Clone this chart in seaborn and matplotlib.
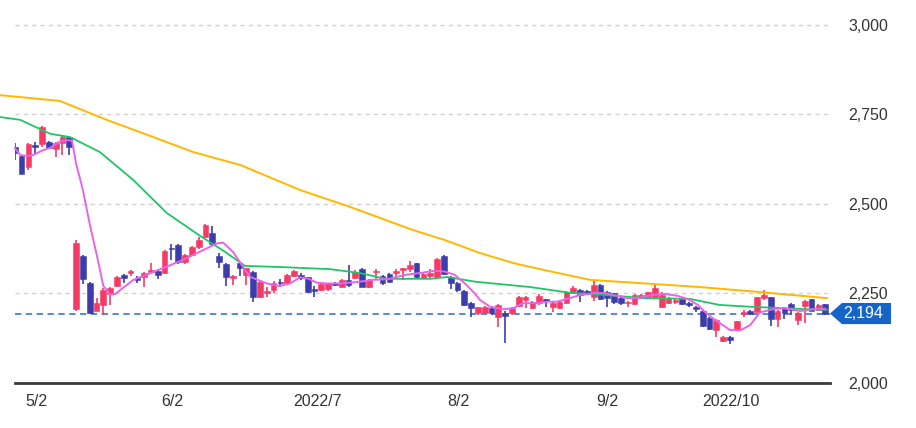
import matplotlib
matplotlib.use("Agg")
import matplotlib.pyplot as plt
import matplotlib.transforms as mtransforms
from matplotlib.patches import Polygon
import numpy as np
import pandas as pd
import seaborn as sns

# ---------------- data ----------------
opens = [2658, 2634, 2603, 2665, 2668, 2673, 2653, 2670, 2686, 2206,
         2355, 2278, 2202, 2218, 2249, 2271, 2302, 2308, 2293, 2297,
         2311, 2313, 2306, 2378, 2385, 2339, 2358, 2381, 2409, 2420,
         2355, 2332, 2292, 2335, 2302, 2311, 2241, 2252, 2260, 2282,
         2278, 2299, 2302, 2295, 2262, 2260, 2262, 2280, 2269, 2288,
         2292, 2318, 2269, 2310, 2299, 2304, 2308, 2316, 2318, 2334,
         2292, 2299, 2297, 2356, 2297, 2280, 2258, 2224, 2195, 2196,
         2210, 2185, 2196, 2196, 2215, 2232, 2209, 2223, 2234, 2213,
         2209, 2223, 2252, 2260, 2258, 2241, 2274, 2255, 2250, 2237,
         2223, 2220, 2237, 2239, 2241, 2211, 2224, 2227, 2235, 2222,
         2211, 2202, 2181, 2148, 2118, 2129, 2148, 2192, 2202, 2199,
         2237, 2239, 2178, 2209, 2221, 2176, 2215, 2234, 2204, 2220]
highs = [2670, 2636, 2670, 2673, 2718, 2676, 2673, 2690, 2690, 2400,
         2358, 2281, 2237, 2265, 2267, 2299, 2304, 2316, 2298, 2309,
         2335, 2316, 2372, 2388, 2388, 2361, 2383, 2407, 2444, 2439,
         2363, 2335, 2302, 2338, 2322, 2313, 2285, 2269, 2284, 2290,
         2304, 2316, 2308, 2297, 2272, 2280, 2280, 2282, 2291, 2330,
         2316, 2320, 2290, 2318, 2301, 2306, 2318, 2322, 2341, 2336,
         2306, 2318, 2348, 2358, 2299, 2282, 2260, 2226, 2213, 2215,
         2216, 2220, 2200, 2213, 2243, 2243, 2229, 2248, 2236, 2226,
         2229, 2257, 2272, 2262, 2260, 2288, 2276, 2257, 2252, 2239,
         2230, 2248, 2248, 2255, 2274, 2255, 2239, 2237, 2237, 2227,
         2216, 2204, 2183, 2178, 2131, 2131, 2174, 2204, 2204, 2241,
         2260, 2241, 2204, 2211, 2223, 2198, 2231, 2236, 2220, 2222]
lows = [2622, 2584, 2595, 2637, 2660, 2655, 2632, 2637, 2637, 2200,
        2277, 2194, 2200, 2190, 2218, 2268, 2280, 2300, 2280, 2269,
        2307, 2290, 2304, 2344, 2332, 2332, 2355, 2375, 2405, 2385,
        2321, 2271, 2274, 2300, 2274, 2227, 2238, 2241, 2252, 2267,
        2275, 2297, 2288, 2252, 2241, 2258, 2258, 2272, 2267, 2269,
        2290, 2267, 2264, 2288, 2274, 2281, 2297, 2288, 2311, 2294,
        2290, 2292, 2294, 2302, 2262, 2255, 2216, 2185, 2190, 2194,
        2190, 2157, 2113, 2190, 2213, 2209, 2206, 2218, 2213, 2197,
        2207, 2220, 2250, 2225, 2245, 2230, 2232, 2211, 2220, 2218,
        2213, 2218, 2235, 2237, 2239, 2209, 2222, 2220, 2218, 2211,
        2197, 2157, 2148, 2129, 2115, 2109, 2146, 2185, 2190, 2197,
        2232, 2160, 2157, 2178, 2190, 2162, 2167, 2200, 2202, 2190]
closes = [2642, 2585, 2668, 2660, 2715, 2656, 2671, 2686, 2658, 2392,
          2290, 2196, 2224, 2259, 2265, 2297, 2292, 2313, 2288, 2307,
          2316, 2303, 2370, 2374, 2339, 2358, 2380, 2400, 2441, 2388,
          2339, 2297, 2300, 2321, 2320, 2241, 2283, 2258, 2279, 2279,
          2302, 2314, 2292, 2255, 2258, 2277, 2278, 2274, 2288, 2275,
          2309, 2269, 2288, 2314, 2280, 2283, 2311, 2320, 2330, 2297,
          2304, 2306, 2346, 2304, 2280, 2260, 2218, 2209, 2211, 2213,
          2195, 2218, 2187, 2209, 2241, 2241, 2227, 2243, 2228, 2224,
          2227, 2255, 2265, 2246, 2249, 2274, 2234, 2237, 2227, 2224,
          2227, 2246, 2246, 2253, 2265, 2246, 2237, 2232, 2220, 2219,
          2207, 2159, 2150, 2176, 2129, 2120, 2172, 2199, 2192, 2239,
          2246, 2178, 2202, 2195, 2204, 2196, 2229, 2202, 2218, 2194]

# moving averages (x in trading-day index)
ma5_x = [0.0, 0.8, 1.8, 2.7, 4.1, 5.2, 6.6, 7.7, 8.4, 9.0, 10.0, 11.0, 12.1, 13.0,
         14.0, 14.7, 17.4, 19.8, 22.3, 24.7, 27.2, 29.7, 30.6, 32.0, 34.5, 37.0,
         38.9, 40.4, 41.9, 43.0, 44.4, 45.8, 47.8, 50.7, 52.4, 54.8, 57.3, 59.8,
         61.7, 63.2, 64.6, 66.1, 67.6, 68.3, 69.8, 71.7, 73.2, 74.6, 76.7, 78.2,
         79.6, 81.5, 83.0, 84.5, 85.2, 86.7, 88.6, 90.0, 91.5, 93.6, 95.5, 97.4,
         98.9, 100.3, 101.3, 102.5, 105.0, 106.5, 108.0, 109.4, 111.3, 112.8,
         114.3, 115.3, 117.2, 119.0]
ma5_y = [2656, 2637, 2634, 2637, 2650, 2657, 2674, 2678, 2677, 2613, 2539, 2444, 2352,
         2271, 2247, 2248, 2288, 2306, 2325, 2344, 2367, 2390, 2392, 2367, 2297, 2278,
         2271, 2278, 2295, 2292, 2280, 2278, 2278, 2283, 2288, 2290, 2302, 2308, 2314,
         2311, 2302, 2278, 2249, 2232, 2213, 2206, 2209, 2223, 2223, 2227, 2227, 2237,
         2246, 2249, 2252, 2251, 2243, 2237, 2237, 2246, 2249, 2243, 2234, 2218, 2199,
         2181, 2148, 2147, 2162, 2197, 2206, 2209, 2205, 2201, 2206, 2208]
ma25_x = [-2.2, 0.8, 5.2, 8.1, 12.5, 17.4, 22.3, 27.2, 30.9, 33.8, 38.9, 46.3,
          50.7, 54.4, 61.0, 63.5, 67.6, 75.7, 81.5, 85.9, 92.5, 99.1, 103.5,
          107.9, 115.3, 119.3]
ma25_y = [2743, 2735, 2696, 2687, 2645, 2567, 2475, 2411, 2366, 2327, 2324, 2318,
          2307, 2291, 2291, 2296, 2283, 2268, 2252, 2247, 2237, 2235, 2218,
          2213, 2207, 2204]
ma75_x = [-2.2, 6.6, 13.5, 19.9, 26.2, 33.1, 41.9, 49.2, 58.5, 63.2, 68.3, 73.2,
          77.6, 84.5, 91.8, 100.6, 109.4, 119.3]
ma75_y = [2804, 2788, 2735, 2690, 2645, 2609, 2539, 2492, 2427, 2399, 2363, 2335,
          2316, 2288, 2279, 2268, 2254, 2237]

tick_pos = [3.2, 23.2, 44.5, 65.1, 87.0, 105.2]
tick_labels = ["5/2", "6/2", "2022/7", "8/2", "9/2", "2022/10"]
y_ticks = [2000, 2250, 2500, 2750, 3000]
y_tick_labels = ["2,000", "2,250", "2,500", "2,750", "3,000"]
last_price = 2194
last_label = "2,194"

# ---------------- drawing ----------------
sns.set_style("white")
plt.rcParams["font.family"] = ["Liberation Sans", "DejaVu Sans"]

W, H = 916, 428
fig = plt.figure(figsize=(W / 100, H / 100), dpi=100)
ax = fig.add_axes([15 / W, 45 / H, (830 - 15) / W, 383 / H])

df = pd.DataFrame({"o": opens, "h": highs, "l": lows, "c": closes})
df["i"] = np.arange(len(df))
up_col, dn_col = "#f53a66", "#3c3cad"
cols = [up_col if c >= o else dn_col for o, c in zip(df.o, df.c)]

# grid lines
for yv in y_ticks[1:]:
    ax.axhline(yv, color="#d6cdd6", lw=1.0, ls=(0, (3, 3)), zorder=0)
# last price line
ax.axhline(last_price, color="#4a80d2", lw=1.3, ls=(0, (3.5, 2.5)), zorder=1)

# candles
ax.vlines(df.i, df.l, df.h, colors=cols, lw=1.2, zorder=2)
body_bot = np.minimum(df.o, df.c)
body_h = np.maximum(np.abs(df.c - df.o), 4)
ax.bar(df.i, body_h, bottom=body_bot, width=0.84, color=cols, edgecolor=cols,
       lw=0.4, zorder=3)

# moving averages
n0 = len(ax.lines)
sns.lineplot(x=ma75_x, y=ma75_y, ax=ax, color="#ffb700", lw=1.4, sort=False, estimator=None, zorder=4)
sns.lineplot(x=ma25_x, y=ma25_y, ax=ax, color="#1fc566", lw=1.3, sort=False, estimator=None, zorder=4)
sns.lineplot(x=ma5_x, y=ma5_y, ax=ax, color="#e665ea", lw=1.4, sort=False, estimator=None, zorder=5)
for ln in ax.lines[n0:]:
    ln.set_clip_on(False)

ax.set_xlim(0.03, 119.7)
ax.set_ylim(2000, 3069.8)

for s in ["top", "left", "right"]:
    ax.spines[s].set_visible(False)
ax.spines["bottom"].set_color("#3a3a3a")
ax.spines["bottom"].set_linewidth(2.0)

ax.yaxis.tick_right()
ax.set_yticks(y_ticks)
ax.set_yticklabels(y_tick_labels)
ax.set_xticks(tick_pos)
ax.set_xticklabels(tick_labels)
ax.tick_params(axis="both", length=0, labelsize=11.5, labelcolor="#333333")
ax.tick_params(axis="y", pad=13)
ax.tick_params(axis="x", pad=8)
ax.set_xlabel("")
ax.set_ylabel("")

# last price tag
tr = mtransforms.blended_transform_factory(fig.transFigure, ax.transData)
hh = 29.5
poly = Polygon([(830 / W, last_price), (842 / W, last_price + hh), (891 / W, last_price + hh),
                (891 / W, last_price - hh), (842 / W, last_price - hh)],
               closed=True, transform=tr, facecolor="#1565c8", edgecolor="none",
               clip_on=False, zorder=10)
fig.patches.append(poly)
fig.text(843 / W, last_price, last_label, transform=tr, color="white", fontsize=11.5,
         va="center", ha="left", zorder=11)

fig.savefig("out.png", dpi=100)
